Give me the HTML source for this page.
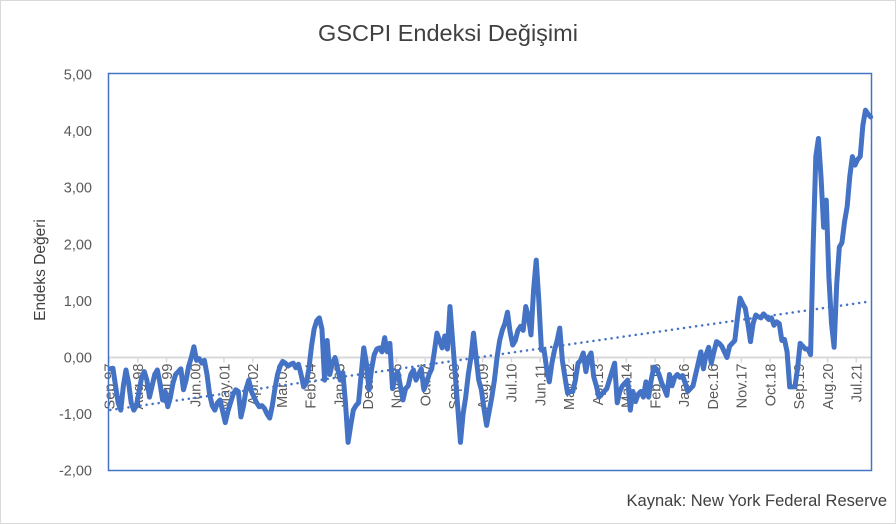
<!DOCTYPE html>
<html><head><meta charset="utf-8"><style>
body{margin:0;background:#fff;}
svg{display:block;font-family:"Liberation Sans","DejaVu Sans",sans-serif;}
</style></head><body>
<svg id="chart" width="896" height="524" viewBox="0 0 896 524" xmlns="http://www.w3.org/2000/svg">
<rect x="0.5" y="0.5" width="895" height="523" fill="#fff" stroke="#d9d9d9"/>
<text x="448" y="41" font-size="23.5" fill="#404040" text-anchor="middle">GSCPI Endeksi Değişimi</text>
<text transform="translate(45,270) rotate(-90)" font-size="15.5" fill="#404040" text-anchor="middle">Endeks Değeri</text>
<text x="887" y="506" font-size="16.5" fill="#404040" text-anchor="end">Kaynak: New York Federal Reserve</text>
<g id="yaxis"></g>
<g id="xaxis"></g>
<g id="series"></g>
<rect x="108.5" y="73.5" width="763" height="397" fill="none" stroke="#4472C4" stroke-width="1.5"/>
</svg>
<script>
const yTicks = [5,4,3,2,1,0,-1,-2];
const yTickLabels = ["5,00","4,00","3,00","2,00","1,00","0,00","-1,00","-2,00"];
const xLabels = ["Sep.97","Aug.98","Jul.99","Jun.00","May.01","Apr.02","Mar.03","Feb.04","Jan.05","Dec.05","Nov.06","Oct.07","Sep.08","Aug.09","Jul.10","Jun.11","May.12","Apr.13","Mar.14","Feb.15","Jan.16","Dec.16","Nov.17","Oct.18","Sep.19","Aug.20","Jul.21"];
const labelStep = 11;
const gscpi = [-0.2,-0.19,-0.5,-0.8,-0.93,-0.5,-0.22,-0.45,-0.8,-0.93,-0.85,-0.6,-0.35,-0.25,-0.4,-0.7,-0.5,-0.3,-0.22,-0.45,
-0.75,-0.6,-0.87,-0.7,-0.45,-0.3,-0.25,-0.2,-0.57,-0.4,-0.15,0.0,0.19,-0.05,-0.02,-0.1,-0.05,-0.3,-0.65,-0.85,
-0.93,-0.8,-0.75,-0.95,-1.15,-0.95,-0.8,-0.65,-0.57,-0.6,-1.05,-0.85,-0.55,-0.4,-0.6,-0.7,-0.8,-0.87,-0.85,-0.9,
-1.0,-1.07,-0.85,-0.55,-0.3,-0.15,-0.07,-0.1,-0.15,-0.12,-0.1,-0.18,-0.12,-0.3,-0.52,-0.45,-0.2,0.2,0.5,0.65,
0.7,0.5,-0.4,0.3,-0.3,-0.1,0.0,-0.2,-0.4,-0.27,-0.8,-1.5,-1.2,-0.93,-0.85,-0.8,-0.3,0.17,-0.1,-0.57,
-0.2,0.05,0.15,0.17,0.1,0.35,0.1,0.25,-0.55,-0.35,-0.25,-0.5,-0.75,-0.55,-0.5,-0.3,-0.22,-0.4,-0.3,-0.2,
-0.57,-0.45,-0.3,-0.2,0.1,0.43,0.3,0.17,0.38,0.15,0.9,0.3,-0.3,-0.9,-1.5,-1.0,-0.7,-0.3,0.0,0.43,
0.0,-0.4,-0.57,-0.9,-1.2,-0.95,-0.7,-0.4,0.0,0.3,0.48,0.6,0.8,0.45,0.22,0.3,0.48,0.55,0.48,0.9,
0.72,0.4,1.2,1.72,1.0,0.13,0.13,-0.2,-0.43,-0.1,0.13,0.3,0.52,-0.05,-0.35,-0.63,-0.6,-0.6,-0.4,-0.1,
-0.05,0.08,-0.25,0.0,0.08,-0.34,-0.5,-0.7,-0.65,-0.6,-0.55,-0.4,-0.25,-0.1,-0.8,-0.6,-0.5,-0.45,-0.4,-0.93,
-0.6,-0.78,-0.65,-0.6,-0.7,-0.43,-0.7,-0.4,-0.17,-0.2,-0.3,-0.45,-0.55,-0.67,-0.3,-0.5,-0.35,-0.3,-0.35,-0.32,
-0.45,-0.6,-0.55,-0.5,-0.3,-0.1,0.1,-0.2,0.05,0.18,-0.1,0.1,0.28,0.25,0.2,0.1,0.0,0.2,0.25,0.3,
0.7,1.05,0.95,0.87,0.6,0.28,0.6,0.75,0.72,0.7,0.77,0.72,0.67,0.7,0.57,0.63,0.6,0.3,0.32,0.1,
-0.52,-0.52,-0.52,-0.2,0.25,0.2,0.15,0.15,0.05,2.0,3.55,3.87,3.18,2.3,2.78,1.42,0.6,0.18,1.3,1.95,
2.03,2.4,2.67,3.2,3.55,3.4,3.5,3.55,4.1,4.37,4.3,4.25];

const NS="http://www.w3.org/2000/svg";
const plotL=109, plotR=872, plotT=74.5, plotB=470.7, yMin=-2, yMax=5;
const n=gscpi.length;
const step=(plotR-plotL)/n;
function xPos(i){return plotL+step*(i+0.5);}
function yPos(v){return plotB-(v-yMin)/(yMax-yMin)*(plotB-plotT);}
function mk(tag,attrs,parent){const e=document.createElementNS(NS,tag);for(const k in attrs)e.setAttribute(k,attrs[k]);parent.appendChild(e);return e;}

const yg=document.getElementById('yaxis');
yTicks.forEach((t,k)=>{
  const tx=mk('text',{x:92,y:yPos(t)+5,'font-size':14.5,fill:'#595959','text-anchor':'end'},yg);
  
  
  tx.textContent=yTickLabels[k];
});
const xg=document.getElementById('xaxis');
const y0=yPos(0);
const zl=mk('line',{x1:plotL,x2:plotR,y1:y0,y2:y0,stroke:'#d9d9d9','stroke-width':2},xg);


xLabels.forEach((lab,k)=>{
  const i=k*labelStep;
  const tx0=plotL+step*i;
  const tk=mk('line',{x1:tx0,x2:tx0,y1:y0,y2:y0+5,stroke:'#d9d9d9','stroke-width':1.5},xg);
  
  
  const cx=xPos(i)+4;
  const t=mk('text',{transform:`translate(${cx},${y0+6}) rotate(-90)`,'font-size':14.5,fill:'#595959','text-anchor':'end'},xg);
  
  
  t.textContent=lab;
});

const sg=document.getElementById('series');
let sx=0,sy=0,sxx=0,sxy=0;
gscpi.forEach((v,i)=>{sx+=i;sy+=v;sxx+=i*i;sxy+=i*v;});
const b=(n*sxy-sx*sy)/(n*sxx-sx*sx), a=(sy-b*sx)/n;
const tl=mk('line',{x1:xPos(0),y1:yPos(a),x2:xPos(n-1),y2:yPos(a+b*(n-1)),stroke:'#4472C4','stroke-width':2.5,'stroke-dasharray':'0.1 6','stroke-linecap':'round'},sg);


const d=gscpi.map((v,i)=>(i?'L':'M')+xPos(i).toFixed(2)+','+yPos(v).toFixed(2)).join(' ');
const p=mk('path',{d:d,fill:'none',stroke:'#4472C4','stroke-width':5,'stroke-linejoin':'round','stroke-linecap':'round'},sg);


</script>
</body></html>
